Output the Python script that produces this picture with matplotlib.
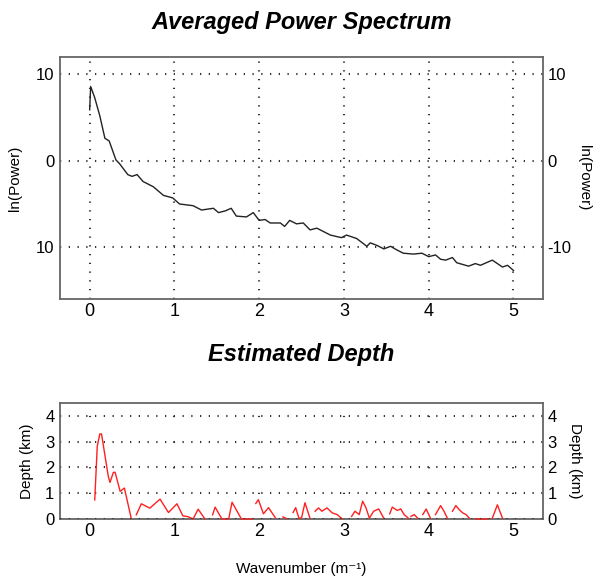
import numpy as np
import matplotlib.pyplot as plt

plt.rcParams['font.family'] = ['Liberation Sans', 'DejaVu Sans']

# averaged power spectrum, ln(power) against wavenumber
k_pow = [0.0, 0.012, 0.06, 0.12, 0.18, 0.23, 0.31, 0.35, 0.45, 0.50, 0.56, 0.63,
         0.75, 0.87, 0.98, 1.06, 1.22, 1.32, 1.46, 1.52, 1.60, 1.67, 1.73, 1.85,
         1.93, 2.0, 2.07, 2.13, 2.25, 2.30, 2.36, 2.44, 2.52, 2.60, 2.68, 2.84,
         2.97, 3.03, 3.15, 3.27, 3.31, 3.39, 3.47, 3.55, 3.62, 3.70, 3.82, 3.92,
         4.0, 4.08, 4.14, 4.20, 4.28, 4.33, 4.47, 4.55, 4.61, 4.75, 4.87, 4.93, 5.0]
ln_pow = [5.9, 8.6, 7.3, 5.2, 2.6, 2.3, 0.1, -0.3, -1.6, -1.8, -1.6, -2.4,
          -3.0, -4.0, -4.3, -5.0, -5.2, -5.7, -5.5, -6.0, -5.8, -5.5, -6.4, -6.5,
          -6.0, -6.9, -6.8, -7.2, -7.2, -7.6, -6.9, -7.3, -7.2, -8.0, -7.8, -8.6,
          -8.9, -8.6, -9.0, -9.9, -9.5, -9.8, -10.2, -9.9, -10.3, -10.7, -10.8, -10.7,
          -11.1, -10.9, -11.4, -11.5, -11.2, -11.8, -12.2, -11.9, -12.1, -11.5, -12.3, -12.1, -12.7]

# estimated depth (km); nan marks gaps in the curve
k_dep = [0.06, 0.09, 0.12, 0.14, 0.22, 0.24, 0.28, 0.30, 0.36, 0.41, 0.49, 0.52,
         0.55, 0.61, 0.71, 0.83, 0.93, 1.03, 1.10, 1.16, 1.22, 1.28, 1.36, 1.40,
         1.45, 1.48, 1.56, 1.64, 1.68, 1.79, 1.92, 1.94,
         1.96, 1.99, 2.05, 2.11, 2.19, 2.22,
         2.28, 2.32, 2.35,
         2.40, 2.43, 2.47, 2.50, 2.54, 2.60, 2.62,
         2.66, 2.70, 2.74, 2.80, 2.86, 2.92, 2.98, 3.04,
         3.09, 3.13, 3.18, 3.22, 3.26, 3.30, 3.35, 3.41, 3.47, 3.50,
         3.54, 3.57, 3.63, 3.67, 3.71, 3.76, 3.77,
         3.79, 3.83, 3.87, 3.90,
         3.93, 3.97, 4.02, 4.04,
         4.08, 4.14, 4.18, 4.22, 4.25,
         4.28, 4.32, 4.36, 4.40, 4.44, 4.48, 4.50,
         4.55, 4.62, 4.70, 4.72,
         4.75, 4.81, 4.87]
depth = [0.74, 2.83, 3.3, 3.3, 1.65, 1.42, 1.81, 1.81, 1.07, 1.2, 0.03, np.nan,
         0.16, 0.59, 0.42, 0.77, 0.25, 0.59, 0.12, 0.09, 0.0, 0.38, 0.0, np.nan,
         0.16, 0.46, 0.0, 0.0, 0.65, 0.0, 0.0, np.nan,
         0.6, 0.75, 0.2, 0.44, 0.05, np.nan,
         0.08, 0.02, np.nan,
         0.25, 0.44, 0.02, 0.05, 0.63, 0.02, np.nan,
         0.3, 0.43, 0.3, 0.43, 0.24, 0.17, 0.0, np.nan,
         0.1, 0.3, 0.17, 0.69, 0.43, 0.03, 0.3, 0.39, 0.03, np.nan,
         0.2, 0.46, 0.33, 0.39, 0.17, 0.03, np.nan,
         0.1, 0.17, 0.03, np.nan,
         0.17, 0.39, 0.03, np.nan,
         0.17, 0.52, 0.3, 0.03, np.nan,
         0.3, 0.52, 0.36, 0.24, 0.17, 0.03, np.nan,
         0.0, 0.0, 0.0, np.nan,
         0.03, 0.55, 0.03]

pow_ticks = [-10, 0, 10]
pow_left_labels = ['10', '0', '10']
pow_right_labels = ['-10', '0', '10']
dep_ticks = [0, 1, 2, 3, 4]
k_ticks = [0, 1, 2, 3, 4, 5]

fig = plt.figure(figsize=(5.98, 5.80), dpi=100)
ax1 = fig.add_axes([0.1003, 0.4845, 0.808, 0.417])
ax2 = fig.add_axes([0.1003, 0.1052, 0.808, 0.2])

grid_kw = dict(color='#333333', linewidth=1.5, linestyle=(0, (0.6, 3.6)))

def style(ax):
    for s in ax.spines.values():
        s.set_color('#666666')
        s.set_linewidth(1.3)
    ax.tick_params(length=0, pad=4)
    ax.tick_params(axis='x', labelsize=13, pad=3)
    ax.tick_params(axis='y', labelsize=12)
    ax.set_xlim(-0.35, 5.35)
    ax.set_xticks(k_ticks)

# top: power spectrum
ax1.plot(k_pow, ln_pow, color='#222222', linewidth=1.0, zorder=3)
style(ax1)
ax1.set_ylim(-16, 12)
ax1.set_yticks(pow_ticks)
ax1.set_yticklabels(pow_left_labels)
for v in pow_ticks:
    ax1.axhline(v, **grid_kw)
for k in k_ticks:
    ax1.axvline(k, **grid_kw)
ax1.set_ylabel('ln(Power)', fontsize=11, labelpad=10)
r1 = ax1.twinx()
r1.set_ylim(-16, 12)
r1.set_yticks(pow_ticks)
r1.set_yticklabels(pow_right_labels)
r1.tick_params(length=0, labelsize=12, pad=3)
for s in r1.spines.values():
    s.set_visible(False)
r1.set_ylabel('ln(Power)', fontsize=11, rotation=270, labelpad=14)
ax1.set_title('Averaged Power Spectrum', fontsize=17, fontweight='bold',
              style='italic', pad=20)

# bottom: estimated depth
ax2.plot(k_dep, depth, color='#ff2020', linewidth=1.0, zorder=3, clip_on=False)
style(ax2)
ax2.set_ylim(0, 4.5)
ax2.set_yticks(dep_ticks)
for v in dep_ticks[1:]:
    ax2.axhline(v, **grid_kw)
ax2.axhline(0, color='#333333', linewidth=1.5, linestyle=(0, (0.6, 3.6)), zorder=4)
for k in k_ticks:
    ax2.axvline(k, color='#333333', linewidth=1.5, linestyle=(0.3, (0.6, 11.7)))
ax2.set_ylabel('Depth (km)', fontsize=11, labelpad=8)
r2 = ax2.twinx()
r2.set_ylim(0, 4.5)
r2.set_yticks(dep_ticks)
r2.tick_params(length=0, labelsize=12, pad=3)
for s in r2.spines.values():
    s.set_visible(False)
r2.set_ylabel('Depth (km)', fontsize=11, rotation=270, labelpad=18)
ax2.set_title('Estimated Depth', fontsize=17, fontweight='bold',
              style='italic', pad=30)
ax2.set_xlabel('Wavenumber (m\u207b\u00b9)', fontsize=11, labelpad=16)

fig.savefig('out.png', dpi=100)
